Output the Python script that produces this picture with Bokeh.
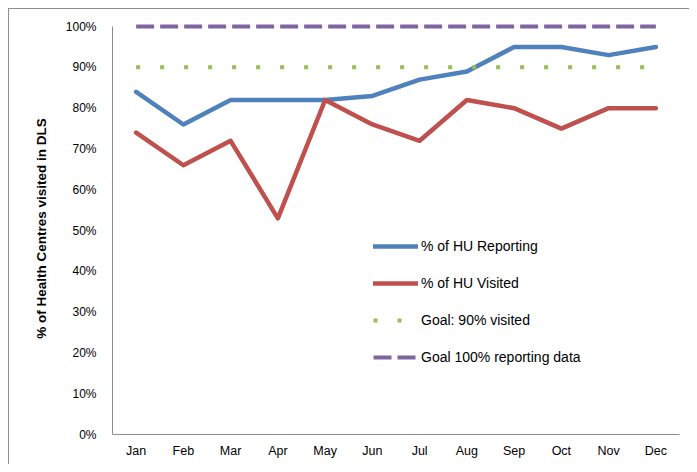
from bokeh.plotting import figure
from bokeh.models import (FactorRange, Range1d, FixedTicker, PrintfTickFormatter,
                          Legend, LegendItem)
from bokeh.embed import file_html
from bokeh.resources import INLINE

months = ["Jan", "Feb", "Mar", "Apr", "May", "Jun", "Jul", "Aug", "Sep", "Oct", "Nov", "Dec"]
hu_reporting = [84, 76, 82, 82, 82, 83, 87, 89, 95, 95, 93, 95]
hu_visited = [74, 66, 72, 53, 82, 76, 72, 82, 80, 75, 80, 80]
goal_visited = [90] * 12
goal_reporting = [100] * 12
y_ticks = [0, 10, 20, 30, 40, 50, 60, 70, 80, 90, 100]

FONT = "Liberation Sans"

p = figure(width=689, height=464, x_range=FactorRange(*months), y_range=Range1d(0, 101),
           output_backend="svg", toolbar_location=None,
           min_border_left=112, min_border_right=10, min_border_top=22, min_border_bottom=30)
p.outline_line_color = None
p.xgrid.visible = False
p.ygrid.visible = False
p.background_fill_color = None
p.border_fill_color = None
# outer chart-area frame: only its top and left edges fall inside the window
p.styles = {
    "background": "linear-gradient(#8f8f8f, #8f8f8f) 8px 8px / 1px 100% no-repeat, "
                  "linear-gradient(#8f8f8f, #8f8f8f) 8px 8px / 100% 1px no-repeat, white",
}

r_rep = p.line(months, hu_reporting, line_color="#4F81BD", line_width=4.5,
               line_join="round", line_cap="round")
r_vis = p.line(months, hu_visited, line_color="#C0504D", line_width=4.5,
               line_join="round", line_cap="round")
r_g90 = p.line(months, goal_visited, line_color="#9BBB59", line_width=4,
               line_dash="4 20", line_cap="butt")
r_g100 = p.line(months, goal_reporting, line_color="#8064A2", line_width=4,
                line_dash="18 6", line_cap="butt")

# axes
p.yaxis.ticker = FixedTicker(ticks=y_ticks)
p.yaxis.formatter = PrintfTickFormatter(format="%d%%")
p.yaxis.bounds = (0, 100)
p.yaxis.axis_line_color = "#8c8c8c"
p.yaxis.major_tick_line_color = None
p.yaxis.minor_tick_line_color = None
p.yaxis.major_tick_out = 0
p.yaxis.major_label_standoff = 16
p.yaxis.major_label_text_font = FONT
p.yaxis.major_label_text_font_size = "12px"
p.yaxis.major_label_text_color = "black"
p.yaxis.axis_label = "% of Health Centres visited in DLS"
p.yaxis.axis_label_text_font = FONT
p.yaxis.axis_label_text_font_style = "bold"
p.yaxis.axis_label_text_font_size = "13.5px"
p.yaxis.axis_label_text_color = "black"
p.yaxis.axis_label_standoff = 14

p.xaxis.axis_line_color = "#8c8c8c"
p.xaxis.major_tick_line_color = None
p.xaxis.minor_tick_line_color = None
p.xaxis.major_tick_out = 0
p.xaxis.major_label_standoff = 9
p.xaxis.major_label_text_font = FONT
p.xaxis.major_label_text_font_size = "12.5px"
p.xaxis.major_label_text_color = "black"

legend = Legend(items=[
    LegendItem(label="% of HU Reporting", renderers=[r_rep]),
    LegendItem(label="% of HU Visited", renderers=[r_vis]),
    LegendItem(label="Goal: 90% visited", renderers=[r_g90]),
    LegendItem(label="Goal 100% reporting data", renderers=[r_g100]),
], location=(261, 67))
legend.padding = 0
legend.margin = 0
legend.border_line_color = None
legend.background_fill_alpha = 0
legend.glyph_width = 45
legend.glyph_height = 20
legend.spacing = 17
legend.label_standoff = 3
legend.label_text_font = FONT
legend.label_text_font_size = "14px"
legend.label_text_color = "black"
p.add_layout(legend, "center")

open("out.html", "w").write(file_html(p, INLINE))
